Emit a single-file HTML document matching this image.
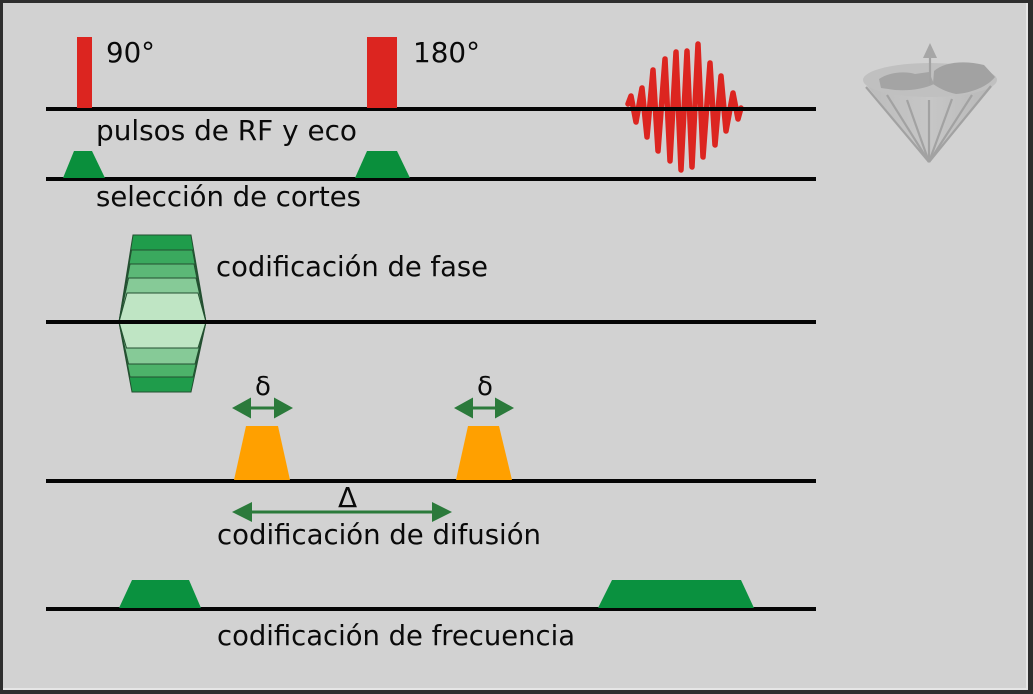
<!DOCTYPE html>
<html><head><meta charset="utf-8">
<style>
html,body{margin:0;padding:0;background:#2e2e2e;}
svg{display:block;}
text{font-family:"DejaVu Sans","Liberation Sans",sans-serif;fill:#0a0a0a;}
</style></head>
<body>
<svg width="1033" height="694" viewBox="0 0 1033 694" xmlns="http://www.w3.org/2000/svg">
<defs>
<linearGradient id="cone" x1="0" y1="0" x2="1" y2="0">
<stop offset="0" stop-color="#bcbcbc"/><stop offset="0.5" stop-color="#c6c6c6"/><stop offset="1" stop-color="#b8b8b8"/>
</linearGradient>
</defs>
<!-- frame -->
<rect x="0" y="0" width="1033" height="694" fill="#2e2e2e"/>
<rect x="3" y="3" width="1025" height="687" fill="#e6e6e6"/>
<rect x="3" y="3" width="1023" height="685" fill="#d2d2d2"/>

<!-- baselines -->
<g fill="#050505">
<rect x="46" y="107" width="770" height="4"/>
<rect x="46" y="177" width="770" height="4"/>
<rect x="46" y="320" width="770" height="4"/>
<rect x="46" y="479" width="770" height="4"/>
<rect x="46" y="607" width="770" height="4"/>
</g>

<!-- RF pulses -->
<rect x="77" y="37" width="15" height="71" fill="#dc2520"/>
<rect x="367" y="37" width="30" height="71" fill="#dc2520"/>
<text x="106" y="62" font-size="28" textLength="49" lengthAdjust="spacingAndGlyphs">90°</text>
<text x="413" y="62" font-size="28" textLength="67" lengthAdjust="spacingAndGlyphs">180°</text>

<!-- echo -->
<path d="M628,104 L631,96 L636,122 L642,88 L647,137 L653,70 L658,151 L665,59 L670,161 L676,52 L681,170 L687,51 L692,167 L698,44 L703,157 L710,63 L715,145 L721,76 L726,131 L733,93 L738,119 L741,108" fill="none" stroke="#dc2520" stroke-width="5.5" stroke-linejoin="round" stroke-linecap="round"/>
<rect x="620" y="107" width="196" height="4" fill="#050505"/>

<!-- globe cone -->
<g>
<polygon points="864,82 996,82 929,163" fill="url(#cone)"/>
<ellipse cx="930" cy="80" rx="67" ry="17" fill="#c0c0c0"/>
<path d="M934,71 C944,62 964,60 984,65 L995,77 C988,86 972,93 956,94 C946,92 939,88 933,84 Z" fill="#a2a2a2"/>
<path d="M879,79 C889,72 905,71 915,74 L929,72 L934,84 C924,89 910,91 895,90 L881,88 Z" fill="#a4a4a4"/>
<g stroke="#a2a2a2" stroke-width="2.2" fill="none">
<line x1="929" y1="162" x2="866" y2="87"/>
<line x1="929" y1="162" x2="887" y2="95"/>
<line x1="929" y1="162" x2="907" y2="100"/>
<line x1="929" y1="162" x2="929" y2="100"/>
<line x1="929" y1="162" x2="952" y2="99"/>
<line x1="929" y1="162" x2="972" y2="95"/>
<line x1="929" y1="162" x2="991" y2="86"/>
<line x1="930" y1="84" x2="930" y2="55"/>
</g>
<polygon points="923,58 937,58 930,43" fill="#a6a6a6"/>
</g>

<text x="96" y="140" font-size="28" textLength="261" lengthAdjust="spacingAndGlyphs">pulsos de RF y eco</text>

<!-- slice select -->
<polygon points="63,178 74,151 92,151 105,178" fill="#0a8f3c"/>
<polygon points="355,178 367,151 397,151 410,178" fill="#0a8f3c"/>
<text x="96" y="206" font-size="28" textLength="265" lengthAdjust="spacingAndGlyphs">selección de cortes</text>

<!-- phase encoding -->
<g stroke="#234f30" stroke-width="1">
<polygon points="119,322 133,235 191,235 206,322" fill="#1f9c4b"/>
<polygon points="119,322 131.5,250 192.5,250 206,322" fill="#3aa95e"/>
<polygon points="119,322 130,264 194,264 206,322" fill="#5cb877"/>
<polygon points="119,322 128.5,278 196,278 206,322" fill="#86ca97"/>
<polygon points="119,322 127,293 198,293 206,322" fill="#bfe5c4"/>
<polygon points="119,322 132,392 191,392 206,322" fill="#1f9c4b"/>
<polygon points="119,322 130,377 193,377 206,322" fill="#4db26a"/>
<polygon points="119,322 128.5,364 195,364 206,322" fill="#86ca97"/>
<polygon points="119,322 126.5,348 198,348 206,322" fill="#bfe5c4"/>
</g>
<rect x="116" y="320" width="92" height="4" fill="#050505"/>
<text x="216" y="276" font-size="28" textLength="272" lengthAdjust="spacingAndGlyphs">codificación de fase</text>

<!-- diffusion -->
<polygon points="234,480 246,426 278,426 290,480" fill="#ffa000"/>
<polygon points="456,480 468,426 499,426 512,480" fill="#ffa000"/>
<g fill="#2b7a3b">
<polygon points="232,408 251,397.5 251,418.5"/>
<polygon points="293,408 274,397.5 274,418.5"/>
<rect x="250" y="406.5" width="25" height="3"/>
<polygon points="454,408 473,397.5 473,418.5"/>
<polygon points="514,408 495,397.5 495,418.5"/>
<rect x="472" y="406.5" width="25" height="3"/>
<polygon points="232,512 252,502 252,522"/>
<polygon points="452,512 432,502 432,522"/>
<rect x="251" y="510.5" width="182" height="3"/>
</g>
<text x="255" y="395" font-size="26">δ</text>
<text x="477" y="395" font-size="26">δ</text>
<text x="338" y="507" font-size="28">Δ</text>
<text x="217" y="544" font-size="28" textLength="324" lengthAdjust="spacingAndGlyphs">codificación de difusión</text>

<!-- frequency -->
<polygon points="119,608 132,580 189,580 201,608" fill="#0a913f"/>
<polygon points="598,608 612,580 741,580 754,608" fill="#0a913f"/>
<text x="217" y="645" font-size="28" textLength="358" lengthAdjust="spacingAndGlyphs">codificación de frecuencia</text>
</svg>
</body></html>
